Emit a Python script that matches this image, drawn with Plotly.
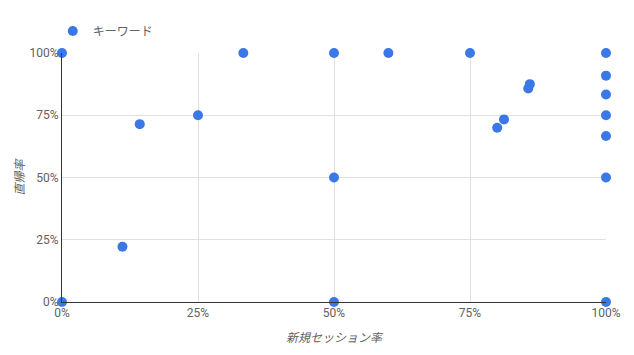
import plotly.graph_objects as go

series_name = "キーワード"
new_session_rate = [0, 0, 0.1111, 0.1429, 0.25, 0.3333, 0.5, 0.5, 0.5, 0.6, 0.75,
                    0.8, 0.8125, 0.8571, 0.86, 1, 1, 1, 1, 1, 1, 1]
bounce_rate = [1, 0, 0.2222, 0.7143, 0.75, 1, 1, 0.5, 0, 1, 1,
               0.7, 0.7333, 0.8571, 0.875, 1, 0.9091, 0.8333, 0.75, 0.6667, 0.5, 0]
tick_vals = [0, 0.25, 0.5, 0.75, 1]
x_title = "新規セッション率"
y_title = "直帰率"

font_family = "Roboto, 'Noto Sans CJK JP', sans-serif"

fig = go.Figure()
fig.add_trace(go.Scatter(
    x=new_session_rate, y=bounce_rate, mode="markers", name=series_name,
    marker=dict(color="#3b78e7", size=10, line=dict(width=0)),
    cliponaxis=False, showlegend=True,
))

fig.update_layout(
    width=634, height=355,
    margin=dict(l=62, r=28, t=53, b=53),
    paper_bgcolor="white", plot_bgcolor="white",
    font=dict(family=font_family, size=12, color="#616161"),
    showlegend=True,
    legend=dict(orientation="h", x=-0.017, xanchor="left", y=1.088, yanchor="middle",
                font=dict(size=12, color="#616161"), bgcolor="rgba(0,0,0,0)"),
    xaxis=dict(range=[0, 1], tickvals=tick_vals, tickformat=".0%",
               showgrid=True, gridcolor="#e0e0e0", gridwidth=1,
               showline=True, linecolor="#333333", linewidth=1,
               zeroline=False, ticks="", ticklen=0,
               title=dict(text=x_title, font=dict(size=12, color="#616161", style="italic"), standoff=14),
               tickfont=dict(size=12, color="#616161")),
    yaxis=dict(range=[0, 1], tickvals=tick_vals, tickformat=".0%",
               showgrid=True, gridcolor="#e0e0e0", gridwidth=1,
               showline=True, linecolor="#333333", linewidth=1,
               zeroline=False, ticks="", ticklen=0,
               title=dict(text=y_title, font=dict(size=12, color="#616161", style="italic"), standoff=2),
               tickfont=dict(size=12, color="#616161")),
)

fig.write_html("out.html")
